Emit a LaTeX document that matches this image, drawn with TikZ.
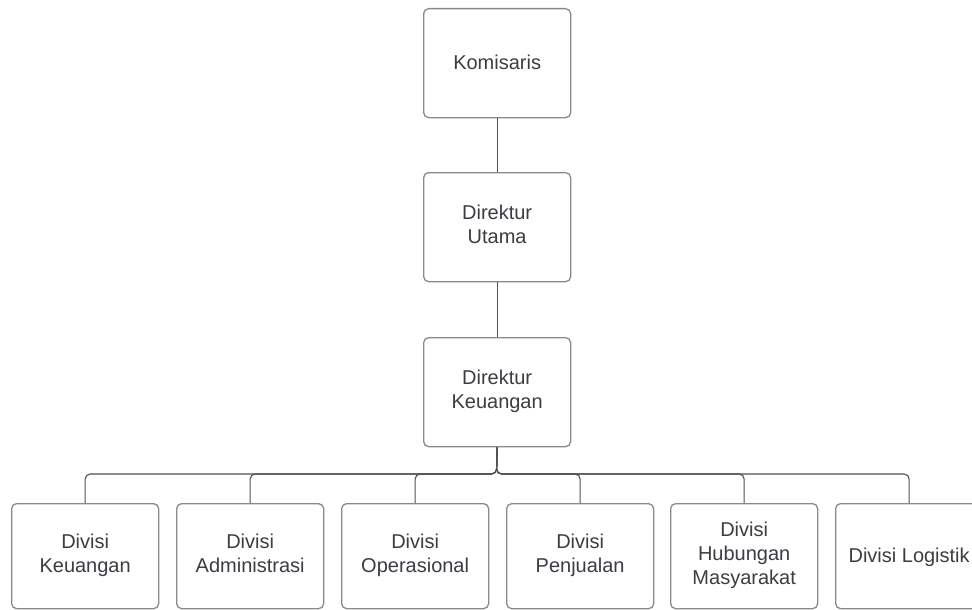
\documentclass[tikz,border=0pt]{standalone}
\usepackage{fontspec}
\setmainfont{Liberation Sans}
\definecolor{boxline}{HTML}{8A8A8A}
\definecolor{connline}{HTML}{505050}
\definecolor{txt}{HTML}{3A3D42}
\newcommand{\mystrut}{\rule[-6pt]{0pt}{24pt}}
\begin{document}
\begin{tikzpicture}[x=1pt,y=-1pt,
  orgbox/.style={draw=boxline,line width=1.3pt,rounded corners=5pt,fill=white,
    minimum width=147pt,minimum height=109pt,anchor=north west,inner sep=0pt,
    align=center,text=txt,font=\fontsize{20}{24}\selectfont,
    execute at begin node=\mystrut,execute at end node=\mystrut},
  divbox/.style={orgbox,minimum height=105pt},
  conn/.style={draw=connline,line width=1.1pt,rounded corners=5pt}]
\useasboundingbox (0,0) rectangle (972,610);
\fill[white] (0,0) rectangle (972,610);
\node[orgbox] (kom) at (423,8) {Komisaris};
\node[orgbox] (du) at (423,172) {Direktur\\Utama};
\node[orgbox] (dk) at (423,337) {Direktur\\Keuangan};
\node[divbox] (c1) at (11,503) {Divisi\\Keuangan};
\node[divbox] (c2) at (176,503) {Divisi\\Administrasi};
\node[divbox] (c3) at (341,503) {Divisi\\Operasional};
\node[divbox] (c4) at (506,503) {Divisi\\Penjualan};
\node[divbox] (c5) at (670,503) {Divisi\\Hubungan\\Masyarakat};
\node[divbox] (c6) at (835,503) {Divisi Logistik};
\coordinate (bus) at (496.5,474);
\draw[conn] (kom.south) -- (du.north);
\draw[conn] (du.south) -- (dk.north);
\foreach \c in {c1,c2,c3,c4,c5,c6}{
  \draw[conn] (dk.south) -- (bus) -| (\c.north);
}
\end{tikzpicture}
\end{document}
